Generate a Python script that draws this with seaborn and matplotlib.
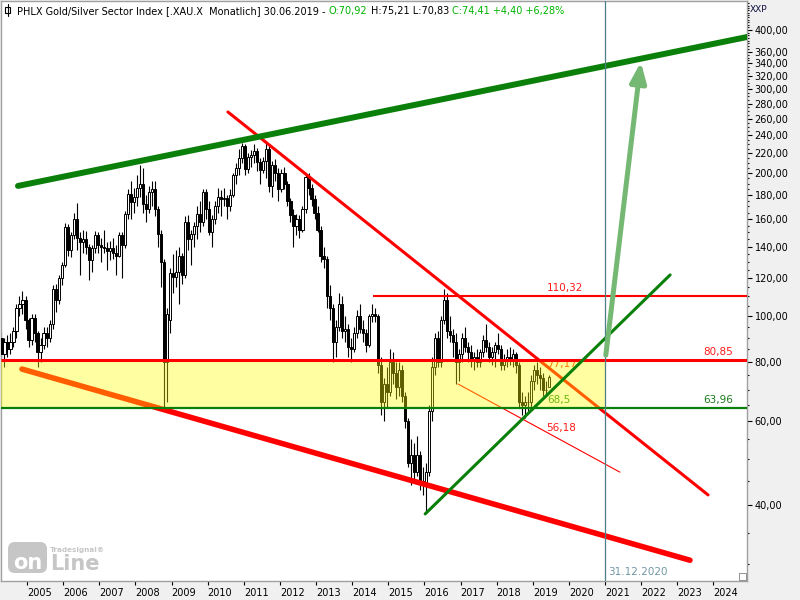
import numpy as np
import pandas as pd
import matplotlib
matplotlib.use("Agg")
import matplotlib.pyplot as plt
import matplotlib.transforms as mtransforms
from matplotlib.patches import Rectangle, FancyBboxPatch
from matplotlib.ticker import FuncFormatter, NullFormatter, NullLocator
import seaborn as sns

# ---------------- data (monthly OHLC, Apr 2004 - Jun 2019) ----------------
opens = [
    90, 83, 88, 85, 88, 93, 104, 106, 108,                      # 2004
    98, 89, 99, 92, 84, 87, 92, 90, 96, 114, 108, 120,          # 2005
    128, 154, 138, 148, 160, 146, 143, 145, 140, 131, 139, 148,  # 2006
    141, 140, 139, 137, 139, 136, 134, 148, 141, 164, 181, 174,  # 2007
    178, 186, 190, 172, 168, 182, 185, 168, 149, 130, 80, 98,    # 2008
    123, 121, 124, 134, 122, 158, 145, 149, 155, 164, 158, 182,  # 2009
    168, 150, 160, 170, 178, 176, 177, 170, 180, 198, 205, 215,  # 2010
    228, 204, 216, 218, 222, 211, 203, 212, 225, 188, 208, 200,  # 2011
    185, 200, 190, 175, 163, 155, 160, 152, 168, 196, 186, 176,  # 2012
    165, 152, 134, 132, 110, 104, 88, 95, 106, 93, 94, 86,       # 2013
    85, 92, 100, 94, 92, 87, 100, 101, 100, 79, 66, 72,          # 2014
    69, 80, 76, 71, 77, 68, 60, 49, 51, 47, 51, 45,              # 2015
    44, 47, 63, 78, 90, 80, 98, 108, 93, 91, 88, 80,             # 2016
    83, 90, 86, 84, 81, 82, 80, 84, 89, 86, 82, 84,              # 2017
    87, 85, 79, 81, 82, 81, 83, 79, 66, 65, 66, 66,              # 2018
    73, 77, 75, 74, 70, 70.92,                                   # 2019
]
highs = [
    92, 90, 91, 92, 95, 106, 110, 113, 110,
    99, 101, 101, 93, 90, 95, 95, 98, 116, 117, 122, 130,
    157, 156, 150, 165, 173, 150, 152, 151, 142, 141, 151, 150,
    146, 152, 143, 144, 146, 141, 150, 150, 166, 185, 192, 186,
    198, 208, 205, 180, 188, 192, 192, 170, 152, 132, 104, 126,
    135, 138, 140, 136, 162, 163, 152, 158, 170, 175, 185, 185,
    175, 163, 175, 186, 184, 186, 180, 185, 200, 210, 225, 231,
    230, 220, 224, 230, 226, 215, 216, 232, 228, 212, 214, 205,
    204, 206, 192, 177, 168, 164, 163, 170, 200, 200, 190, 180,
    170, 155, 140, 134, 116, 106, 98, 112, 110, 100, 96, 90,
    95, 103, 106, 98, 94, 101, 106, 104, 101, 82, 74, 78,
    85, 84, 80, 80, 79, 69, 61, 55, 54, 56, 52, 48,
    49, 65, 82, 92, 93, 100, 114, 112, 100, 94, 92, 85,
    92, 95, 88, 87, 84, 85, 85, 91, 96, 88, 86, 88,
    92, 87, 83, 85, 86, 85, 84, 80, 69, 68, 69, 75,
    79, 80, 78, 76, 73, 75.21,
]
lows = [
    80, 78, 82, 83, 86, 90, 100, 101, 94,
    86, 87, 88, 78, 80, 85, 86, 88, 94, 102, 106, 116,
    127, 134, 133, 145, 138, 122, 136, 135, 119, 124, 136, 136,
    130, 136, 125, 131, 132, 122, 133, 120, 139, 160, 160, 165,
    170, 178, 165, 158, 165, 170, 162, 140, 115, 64, 66, 92,
    112, 115, 106, 117, 120, 138, 128, 140, 145, 150, 155, 160,
    148, 140, 156, 165, 162, 170, 160, 166, 178, 190, 198, 210,
    198, 200, 206, 210, 202, 190, 200, 195, 182, 178, 192, 175,
    182, 185, 170, 158, 140, 148, 146, 150, 165, 180, 170, 160,
    150, 130, 126, 104, 98, 80, 82, 93, 90, 88, 82, 80,
    84, 90, 92, 88, 84, 86, 97, 97, 76, 62, 60, 64,
    68, 72, 67, 68, 66, 58, 48, 44, 45, 46, 43, 42,
    38.5, 46, 60, 75, 78, 78, 96, 90, 88, 82, 72, 73,
    80, 84, 80, 78, 77, 78, 78, 82, 84, 80, 79, 78,
    83, 77, 77, 78, 79, 78, 76, 64, 62, 61, 63, 64,
    70, 72, 70, 68, 68, 70.83,
]
closes = [
    83, 88, 85, 88, 93, 104, 106, 108, 98,
    89, 99, 92, 84, 87, 92, 90, 96, 114, 108, 120, 128,
    154, 138, 148, 160, 146, 143, 145, 140, 131, 139, 148, 141,
    140, 139, 137, 139, 136, 134, 148, 141, 164, 181, 174, 178,
    186, 190, 172, 168, 182, 185, 168, 149, 130, 80, 101, 123,
    121, 124, 134, 122, 158, 145, 149, 155, 164, 158, 182, 168,
    150, 160, 170, 178, 176, 177, 170, 180, 198, 205, 215, 228,
    204, 216, 218, 222, 211, 203, 212, 225, 188, 208, 200, 185,
    200, 190, 175, 163, 155, 160, 152, 168, 196, 186, 176, 165,
    152, 134, 132, 110, 104, 88, 95, 106, 93, 94, 86, 85,
    92, 100, 94, 92, 87, 100, 101, 100, 79, 66, 72, 69,
    80, 76, 71, 77, 68, 60, 49, 51, 47, 51, 45, 44,
    47, 63, 78, 90, 80, 98, 108, 93, 91, 88, 80, 83,
    90, 86, 84, 81, 82, 80, 84, 89, 86, 82, 84, 87,
    85, 79, 81, 82, 81, 83, 79, 66, 65, 66, 66, 73,
    77, 75, 74, 70, 70.01, 74.41,
]
start_month = "2004-04-01"

year_ticks = list(range(2005, 2025))
year_labels = [str(y) for y in year_ticks]
price_ticks = [40, 60, 80, 100, 120, 140, 160, 180, 200, 220, 240, 260, 280,
               300, 320, 340, 360, 400]
price_minor = [v for v in range(30, 460, 5) if v not in price_ticks]

# horizontal levels
level_resist = 110.32
level_top = 80.85
level_bottom = 63.96
marker_date = 2020.997          # 31.12.2020

# trendlines: (t0, t1), (v0, v1)
upper_green = ((2004.75, 2024.93), (187.8, 386.6))
lower_red = ((2004.86, 2023.35), (77.3, 30.6))
desc_red = ((2010.56, 2023.85), (268.8, 42.0))
asc_green = ((2016.02, 2022.80), (38.3, 122.0))
thin_red = ((2016.93, 2021.41), (71.9, 46.9))
arrow_pts = ((2021.02, 82.7), (2021.99, 342.5))

level_labels = [
    ("110,32", 2019.89, 114.5, "#ff1a1a", 8),
    ("80,85", 2024.13, 83.9, "#ff1a1a", 8),
    ("63,96", 2024.13, 66.5, "#1a7a1a", 8),
    ("77,17", 2019.81, 79.2, "#ff2a00", 4),
    ("68,5", 2019.72, 66.4, "#159015", 4),
    ("56,18", 2019.78, 58.1, "#ff1a1a", 8),
]

title_parts = [
    ("PHLX Gold/Silver Sector Index [.XAU.X  Monatlich] 30.06.2019 -", "#000000"),
    ("O:70,92", "#00b400"),
    ("H:75,21 L:70,83", "#000000"),
    ("C:74,41 +4,40 +6,28%", "#00b400"),
]

# ---------------- styling ----------------
sns.set_theme(style="white")
plt.rcParams["font.family"] = ["DejaVu Sans"]

df = pd.DataFrame({"open": opens, "high": highs, "low": lows, "close": closes},
                  index=pd.date_range(start_month, periods=len(closes), freq="MS"))
df["t"] = df.index.year + (df.index.month - 0.5) / 12.0

fig = plt.figure(figsize=(8, 6), dpi=100, facecolor="#f0f0f0")
ax = fig.add_axes([1 / 800, 19 / 600, 746 / 800, 580 / 600])
ax.set_facecolor("white")
ax.set_yscale("log")

# candles
up = df[df["close"] >= df["open"]]
dn = df[df["close"] < df["open"]]
ax.vlines(df["t"], df["low"], df["high"], color="black", lw=0.8, zorder=2)
ax.bar(up["t"], up["close"] - up["open"], bottom=up["open"], width=0.06,
       color="white", edgecolor="black", lw=0.7, zorder=3)
ax.bar(dn["t"], dn["open"] - dn["close"], bottom=dn["close"], width=0.06,
       color="black", edgecolor="black", lw=0.7, zorder=3)


def seg(line, color, lw, z):
    sns.lineplot(x=list(line[0]), y=list(line[1]), ax=ax, color=color,
                 linewidth=lw, solid_capstyle="round", zorder=z, legend=False)


xmin, xmax = 2004.28, 2024.928

# lines beneath the translucent band
seg(lower_red, "#ff0000", 4.0, 4)
seg(desc_red, "#ff0000", 2.2, 4)
seg(thin_red, "#ff0000", 0.8, 4)
for txt, tx, ty, col, z in level_labels:
    ax.text(tx, ty, txt, color=col, fontsize=7.5, ha="center", va="center", zorder=z)

# yellow band
ax.fill_between([xmin, marker_date], [level_bottom] * 2, [level_top] * 2,
                color="#ffff00", alpha=0.37, lw=0, zorder=5)

# lines on top
ax.hlines(level_top, xmin, xmax, color="#ff0000", lw=2.2, zorder=6)
ax.hlines(level_bottom, xmin, xmax, color="#0a800a", lw=1.6, zorder=6)
ax.hlines(level_resist, 2014.58, xmax, color="#ff0000", lw=1.5, zorder=6)
seg(upper_green, "#0a800a", 4.3, 6)
seg(asc_green, "#0a800a", 2.2, 6)
ax.axvline(marker_date, color="#4f7f86", lw=0.9, zorder=6)
ax.annotate("", xy=arrow_pts[1], xytext=arrow_pts[0],
            arrowprops=dict(arrowstyle="-|>,head_width=0.4,head_length=1.0",
                            color="#74b874", lw=3.6, mutation_scale=12,
                            shrinkA=0, shrinkB=0), zorder=7)

blend = mtransforms.blended_transform_factory(ax.transData, ax.transAxes)
ax.annotate("31.12.2020", xy=(marker_date, 0), xycoords=blend, xytext=(2.5, 3),
            textcoords="offset points", ha="left", va="bottom",
            fontsize=7.5, color="#6f97a3")

# axes limits and ticks
ax.set_xlim(xmin, xmax)
ax.set_xlabel("")
ax.set_ylabel("")
ax.set_xticks(year_ticks)
ax.set_xticklabels(year_labels, ha="left")
offset = mtransforms.ScaledTranslation(3 / 100, 0, fig.dpi_scale_trans)
for lab in ax.get_xticklabels():
    lab.set_transform(lab.get_transform() + offset)
ax.xaxis.set_minor_locator(NullLocator())
ax.tick_params(axis="x", which="major", direction="out", length=3, width=0.8,
               color="black", labelsize=7, pad=2, bottom=True, labelcolor="#000000")

ax.yaxis.tick_right()
ax.set_yticks(price_ticks)
ax.set_yticks(price_minor, minor=True)
ax.yaxis.set_major_formatter(FuncFormatter(lambda v, p: f"{v:.2f}".replace(".", ",")))
ax.yaxis.set_minor_formatter(NullFormatter())
ax.tick_params(axis="y", which="major", direction="out", length=3.5, width=0.8,
               color="black", labelsize=7, pad=2, right=True, left=False,
               labelcolor="#000000")
ax.tick_params(axis="y", which="minor", direction="out", length=1.5, width=0.8,
               color="black", right=True, left=False)
ax.set_ylim(27.67, 460.3)
ax.grid(False)
for s in ax.spines.values():
    s.set_color("#a0a0a0")
    s.set_linewidth(1)

# title (multi-coloured)
prev = ax.text(16 / 746, 1 - 10 / 580, title_parts[0][0], transform=ax.transAxes,
               fontsize=7, color=title_parts[0][1], ha="left", va="center", zorder=10)
for txt, col in title_parts[1:]:
    prev = ax.annotate(txt, xy=(1, 0), xycoords=prev, xytext=(2.4, 0),
                       textcoords="offset points", ha="left", va="bottom",
                       fontsize=7, color=col, zorder=10)

inch = fig.dpi_scale_trans
# small candle icon before title
fig.add_artist(plt.Line2D([7.5 / 100, 7.5 / 100], [(600 - 16) / 100, (600 - 4) / 100],
                          transform=inch, color="black", lw=0.8))
fig.add_artist(Rectangle((5 / 100, (600 - 13) / 100), 5 / 100, 6 / 100,
                         transform=inch, fc="white", ec="black", lw=0.8))

fig.text(750 / 100, (600 - 10) / 100, "XXP", transform=inch, fontsize=6.5,
         color="#101040", ha="left", va="center")

# logo
fig.add_artist(FancyBboxPatch((8 / 100, (600 - 573) / 100), 39 / 100, 31 / 100,
                              boxstyle="round,pad=0,rounding_size=0.07",
                              transform=inch, fc="#c6c6c6", ec="none"))
fig.text(28 / 100, (600 - 563) / 100, "on", transform=inch, fontsize=15,
         fontweight="bold", color="white", ha="center", va="center")
fig.text(50 / 100, (600 - 564) / 100, "Line", transform=inch, fontsize=15,
         fontweight="bold", color="#c6c6c6", ha="left", va="center")
fig.text(50 / 100, (600 - 550) / 100, "Tradesignal\u00ae", transform=inch, fontsize=5.2,
         fontweight="bold", color="#c6c6c6", ha="left", va="center")

# resize glyph
fig.add_artist(Rectangle((739 / 100, (600 - 580) / 100), 7 / 100, 7 / 100,
                         transform=inch, fc="white", ec="#808080", lw=0.6))

fig.savefig("out.png", dpi=100, facecolor=fig.get_facecolor())
